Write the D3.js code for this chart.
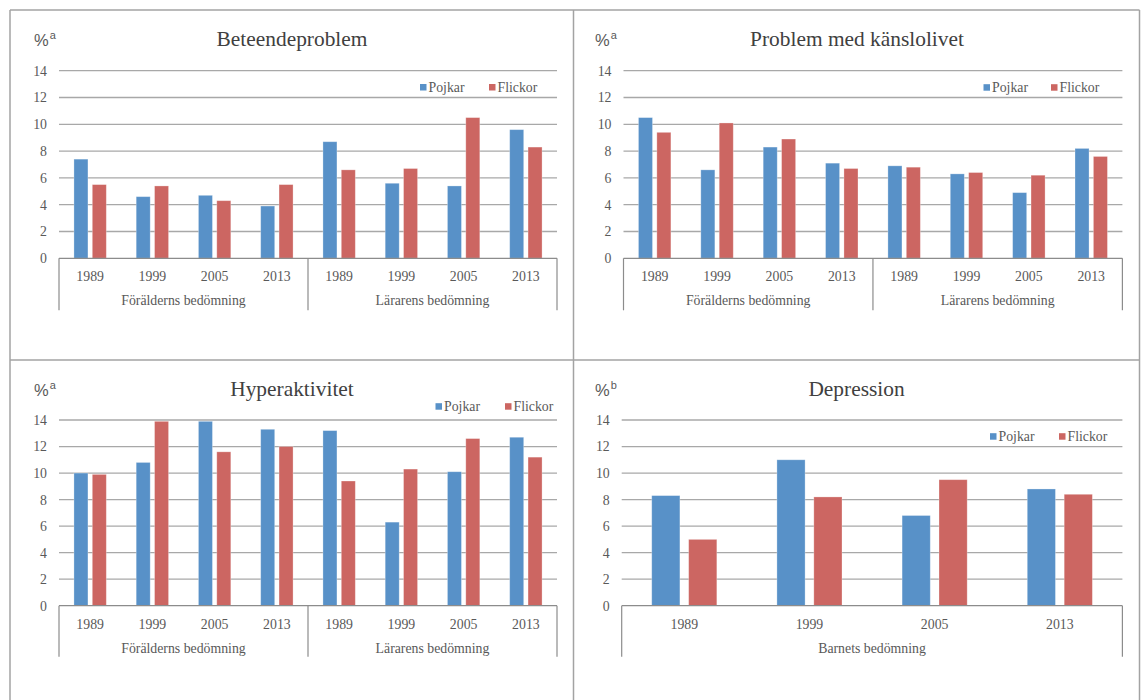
<!DOCTYPE html>
<html>
<head>
<meta charset="utf-8">
<script src="https://cdn.jsdelivr.net/npm/d3@7"></script>
<style>
  html, body { margin: 0; padding: 0; background: #ffffff; }
  svg { display: block; }
</style>
</head>
<body>
<svg id="chart" width="1141" height="700"></svg>
<script>
// ---------- data ----------
const years = ["1989", "1999", "2005", "2013"];
const raterGroupsTwo = ["Förälderns bedömning", "Lärarens bedömning"];
const raterGroupsOne = ["Barnets bedömning"];
const seriesNames = ["Pojkar", "Flickor"];
const yTickValues = [0, 2, 4, 6, 8, 10, 12, 14];

const beteendeTitle = "Beteendeproblem";
const beteendePojkar = [7.4, 4.6, 4.7, 3.9, 8.7, 5.6, 5.4, 9.6];
const beteendeFlickor = [5.5, 5.4, 4.3, 5.5, 6.6, 6.7, 10.5, 8.3];

const kanslorTitle = "Problem med känslolivet";
const kanslorPojkar = [10.5, 6.6, 8.3, 7.1, 6.9, 6.3, 4.9, 8.2];
const kanslorFlickor = [9.4, 10.1, 8.9, 6.7, 6.8, 6.4, 6.2, 7.6];

const hyperTitle = "Hyperaktivitet";
const hyperPojkar = [10.0, 10.8, 13.9, 13.3, 13.2, 6.3, 10.1, 12.7];
const hyperFlickor = [9.9, 13.9, 11.6, 12.0, 9.4, 10.3, 12.6, 11.2];

const depressionTitle = "Depression";
const depressionPojkar = [8.3, 11.0, 6.8, 8.8];
const depressionFlickor = [5.0, 8.2, 9.5, 8.4];

const unitSuperscripts = ["a", "a", "a", "b"];

// ---------- style ----------
const COLORS = { "Pojkar": "#5891c8", "Flickor": "#cc6662" };
const SERIF = "'Liberation Serif', 'Times New Roman', serif";
const SANS = "'Liberation Sans', Arial, sans-serif";
const TEXT = "#595959";

const svg = d3.select("#chart");

// panel frame lines
const frame = svg.append("g").attr("stroke", "#a3a3a3").attr("stroke-width", 1.5).attr("fill", "none");
frame.append("line").attr("x1", 10).attr("x2", 1139.5).attr("y1", 10).attr("y2", 10);
frame.append("line").attr("x1", 10).attr("x2", 1139.5).attr("y1", 360).attr("y2", 360);
frame.append("line").attr("x1", 10).attr("x2", 10).attr("y1", 10).attr("y2", 700);
frame.append("line").attr("x1", 573.5).attr("x2", 573.5).attr("y1", 10).attr("y2", 700);
frame.append("line").attr("x1", 1139.5).attr("x2", 1139.5).attr("y1", 10).attr("y2", 700);

function drawPanel(cfg) {
  const g = svg.append("g");
  const groups = cfg.groups;
  const cats = [];
  groups.forEach(gr => years.forEach(y => cats.push(gr + "|" + y)));

  const x = d3.scaleBand().domain(cats).range([cfg.x0, cfg.x1]).paddingInner(0).paddingOuter(0);
  const step = x.step();
  const xs = d3.scaleBand().domain(seriesNames)
    .range([0.24 * step, 0.76 * step]).paddingInner(0.237).paddingOuter(0);
  const y = d3.scaleLinear().domain([0, 14]).range([cfg.y0, cfg.yTop]);

  // gridlines
  g.append("g").selectAll("line").data(yTickValues.filter(v => v > 0)).join("line")
    .attr("x1", cfg.x0).attr("x2", cfg.x1)
    .attr("y1", d => y(d)).attr("y2", d => y(d))
    .attr("stroke", "#a8a8a8").attr("stroke-width", 1.3);

  // y axis labels
  const yAxis = d3.axisLeft(y).tickValues(yTickValues).tickSize(0).tickPadding(12);
  const ya = g.append("g").attr("transform", `translate(${cfg.x0},0)`).call(yAxis);
  ya.select(".domain").remove();
  ya.selectAll("text").attr("font-family", SERIF).attr("font-size", 13.8).attr("fill", TEXT);

  // bars
  const dataRows = [];
  cats.forEach((c, i) => {
    dataRows.push({ cat: c, s: "Pojkar", v: cfg.pojkar[i] });
    dataRows.push({ cat: c, s: "Flickor", v: cfg.flickor[i] });
  });
  g.append("g").selectAll("rect").data(dataRows).join("rect")
    .attr("x", d => x(d.cat) + xs(d.s))
    .attr("width", xs.bandwidth())
    .attr("y", d => y(d.v))
    .attr("height", d => y(0) - y(d.v))
    .attr("fill", d => COLORS[d.s])
    .attr("stroke", "#ffffff").attr("stroke-opacity", 0.35).attr("stroke-width", 0.8);

  // x axis baseline and separators
  const ax = g.append("g").attr("stroke", "#8c8c8c").attr("stroke-width", 1.2);
  ax.append("line").attr("x1", cfg.x0).attr("x2", cfg.x1).attr("y1", y(0)).attr("y2", y(0));
  const sepX = [cfg.x0];
  groups.forEach(gr => sepX.push(x(gr + "|" + years[years.length - 1]) + step));
  ax.selectAll("line.sep").data(sepX).join("line").attr("class", "sep")
    .attr("x1", d => d).attr("x2", d => d)
    .attr("y1", y(0)).attr("y2", y(0) + cfg.sepLen);

  // year labels
  g.append("g").selectAll("text").data(cats).join("text")
    .attr("x", d => x(d) + step / 2).attr("y", y(0) + 23)
    .attr("text-anchor", "middle")
    .attr("font-family", SERIF).attr("font-size", 13.8).attr("fill", TEXT)
    .text(d => d.split("|")[1]);

  // group labels
  g.append("g").selectAll("text").data(groups).join("text")
    .attr("x", gr => (x(gr + "|" + years[0]) + x(gr + "|" + years[years.length - 1]) + step) / 2)
    .attr("y", y(0) + 47)
    .attr("text-anchor", "middle")
    .attr("font-family", SERIF).attr("font-size", 13.8).attr("fill", TEXT)
    .text(gr => gr);

  // title
  g.append("text").attr("x", cfg.titleX).attr("y", cfg.titleY)
    .attr("text-anchor", "middle")
    .attr("font-family", SERIF).attr("font-size", 21.4).attr("fill", "#404040")
    .text(cfg.title);

  // unit label
  const u = g.append("text").attr("x", cfg.unitX).attr("y", cfg.titleY)
    .attr("font-family", SANS).attr("font-size", 16.5).attr("fill", TEXT);
  u.append("tspan").text("%");
  u.append("tspan").attr("font-size", 11).attr("dy", -7).attr("dx", 1).text(cfg.sup);

  // legend
  const lg = g.append("g");
  seriesNames.forEach((s, i) => {
    const lx = cfg.legendX[i];
    lg.append("rect").attr("x", lx).attr("y", cfg.legendY - 3.5).attr("width", 6.5).attr("height", 6.5)
      .attr("fill", COLORS[s]);
    lg.append("text").attr("x", lx + 8.5).attr("y", cfg.legendY + 4.5)
      .attr("font-family", SERIF).attr("font-size", 13.8).attr("fill", TEXT)
      .text(s);
  });
}

drawPanel({
  title: beteendeTitle, groups: raterGroupsTwo, pojkar: beteendePojkar, flickor: beteendeFlickor,
  x0: 59, x1: 557, yTop: 70.7, y0: 258.3, sepLen: 52,
  titleX: 292, titleY: 45.7, unitX: 34, sup: unitSuperscripts[0],
  legendX: [420, 489], legendY: 87.5
});
drawPanel({
  title: kanslorTitle, groups: raterGroupsTwo, pojkar: kanslorPojkar, flickor: kanslorFlickor,
  x0: 623.5, x1: 1122.4, yTop: 70.7, y0: 258.3, sepLen: 52,
  titleX: 857, titleY: 45.7, unitX: 595, sup: unitSuperscripts[1],
  legendX: [983.5, 1051], legendY: 87.7
});
drawPanel({
  title: hyperTitle, groups: raterGroupsTwo, pojkar: hyperPojkar, flickor: hyperFlickor,
  x0: 59, x1: 557, yTop: 420, y0: 605.7, sepLen: 51,
  titleX: 292, titleY: 395.7, unitX: 34, sup: unitSuperscripts[2],
  legendX: [435.5, 505], legendY: 406.7
});
drawPanel({
  title: depressionTitle, groups: raterGroupsOne, pojkar: depressionPojkar, flickor: depressionFlickor,
  x0: 621.7, x1: 1122.4, yTop: 420, y0: 605.7, sepLen: 51,
  titleX: 856.5, titleY: 395.5, unitX: 595, sup: unitSuperscripts[3],
  legendX: [990, 1059], legendY: 436.7
});
</script>
</body>
</html>
